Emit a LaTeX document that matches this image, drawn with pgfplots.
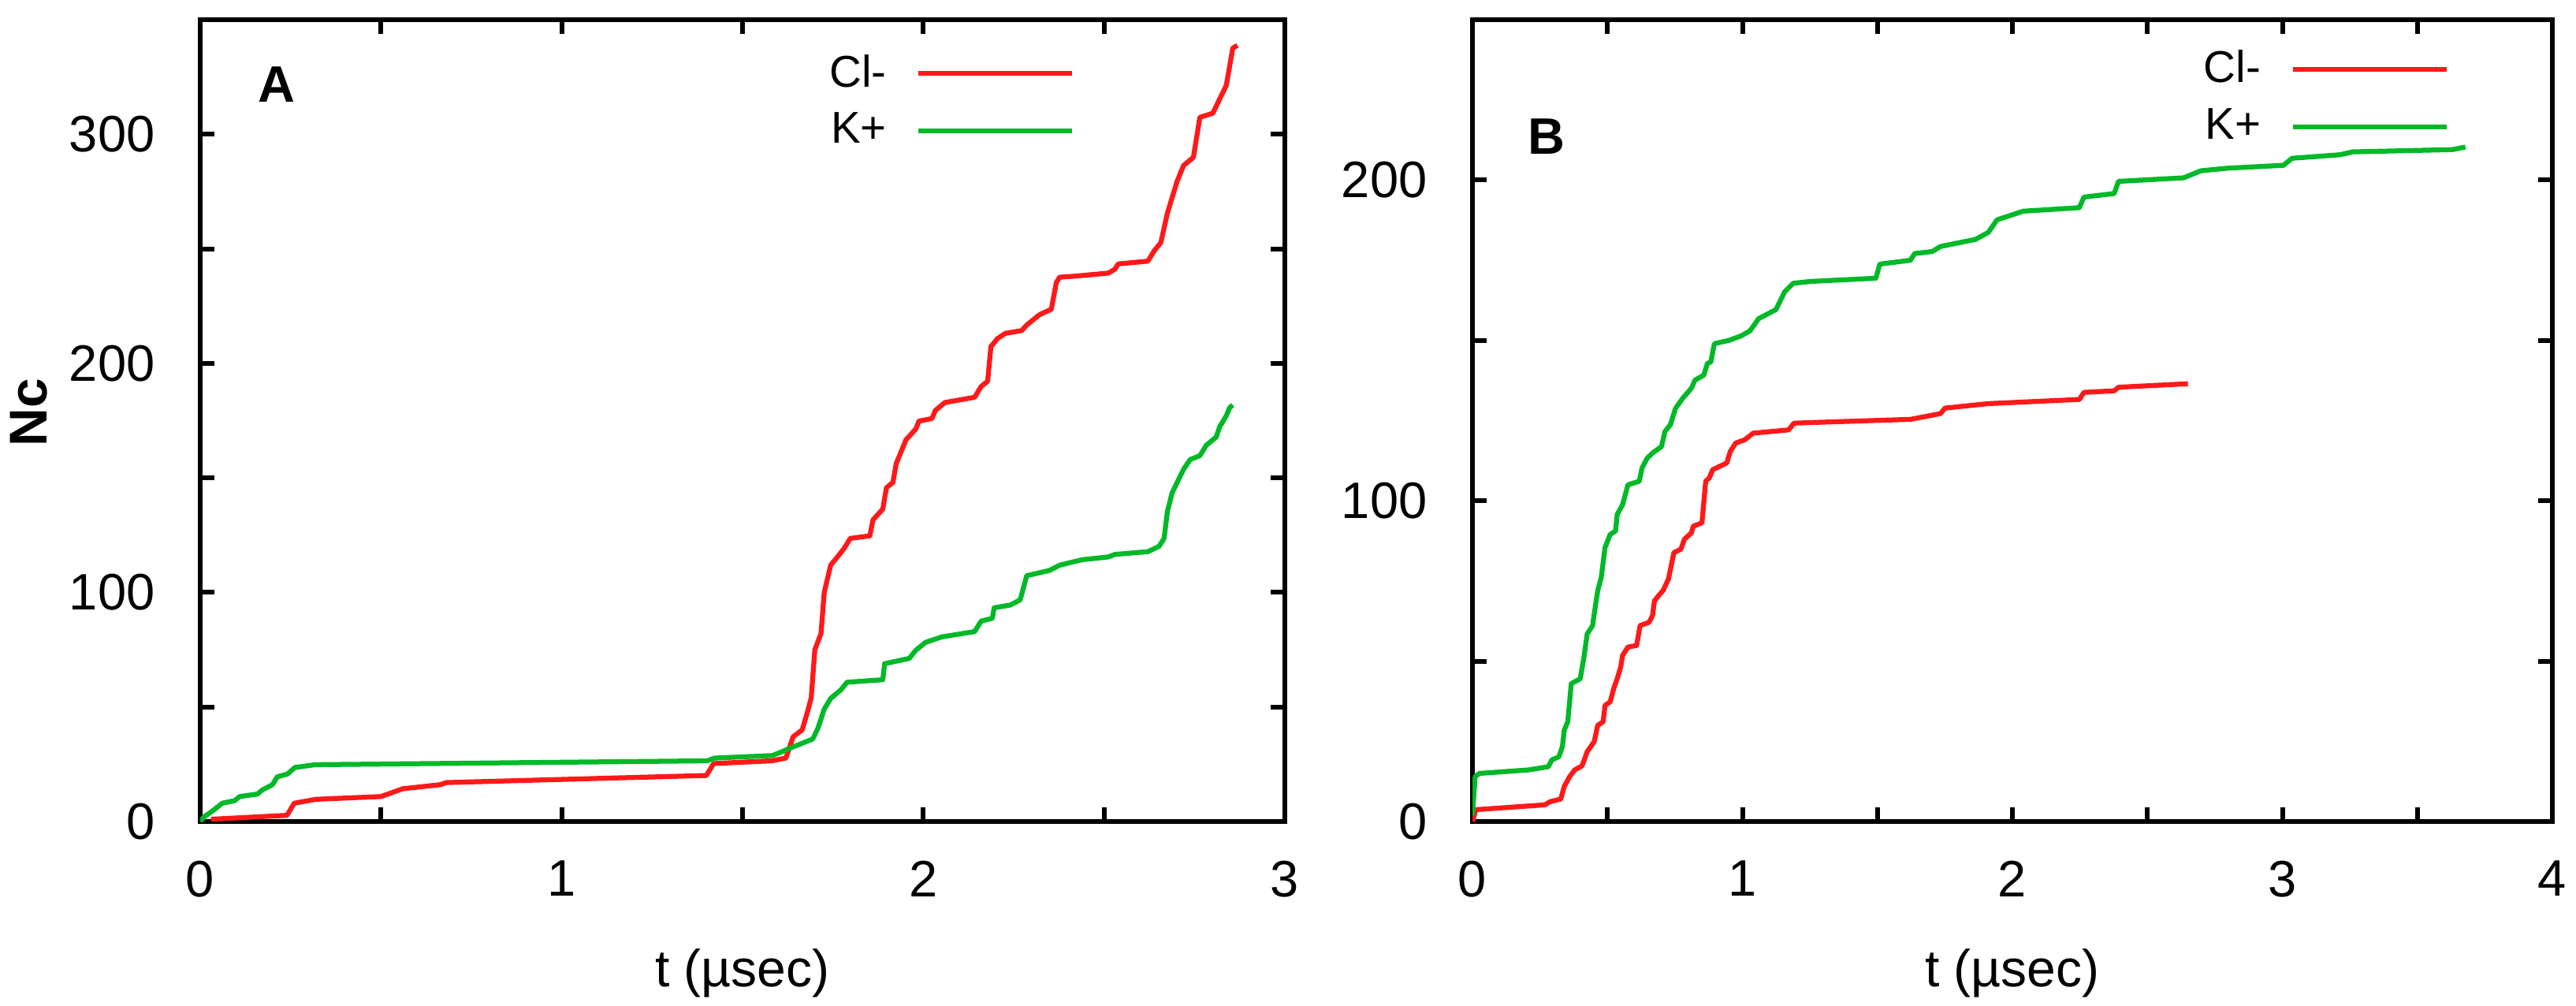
\documentclass[border=0pt]{standalone}
\usepackage{fontspec}
\setmainfont{Liberation Sans}
\usepackage{pgfplots}
\pgfplotsset{compat=1.18}
\definecolor{cred}{RGB}{255,25,25}
\definecolor{cgreen}{RGB}{0,185,40}

\pgfplotsset{
 myaxis/.style={
  scale only axis, height=203.4pt,
  axis line style={line width=1.2pt},
  every tick/.style={black, line width=1.2pt},
  tick align=inside, major tick length=3.6pt, minor tick length=3.6pt,
  minor x tick num=1, minor y tick num=1,
  xmin=0, ymin=0,
  tick label style={font=\fontsize{13}{15}\selectfont},
  /pgf/number format/assume math mode=true,
  yticklabel style={xshift=-8pt},
  xticklabel style={yshift=-6.5pt},
  xlabel={t (µsec)},
  xlabel style={font=\fontsize{13.2}{15}\selectfont, at={(axis description cs:0.5,0)}, anchor=center, yshift=-38.4pt},
  legend plot pos=right,
  legend cell align=right,
  legend image code/.code={\draw[#1] (0pt,0pt) -- (39pt,0pt);},
  legend style={draw=none, fill=none, anchor=north east, inner sep=0pt, font=\fontsize{11.3}{13}\selectfont, row sep=2pt, column sep=6pt, nodes={inner sep=1.5pt}},
 }
}

\begin{document}
\begin{tikzpicture}
\useasboundingbox (0,0) rectangle (653.6pt,255pt);

\begin{axis}[myaxis, at={(50.8pt,46.6pt)}, anchor=south west, width=275.2pt,
  xmax=3, ymax=350, xtick={0,1,2,3}, ytick={0,100,200,300},
  ylabel={\bfseries Nc},
  ylabel style={at={(axis description cs:-0.158,0.51)}, anchor=center, font=\fontsize{13.5}{15}\selectfont},
  legend style={at={(0.807,0.965)}}]
\addplot[cred, line width=1.25pt, line join=round] table {
0.03 1.0
0.24 2.7
0.26 8.0
0.32 9.7
0.50 10.9
0.53 12.6
0.56 14.3
0.665 16.1
0.68 17.0
1.40 20.1
1.42 25.3
1.58 26.5
1.62 27.7
1.64 37.0
1.665 40.0
1.68 48.0
1.69 54.0
1.70 75.0
1.717 82.0
1.726 100.0
1.744 112.0
1.762 115.4
1.78 119.0
1.798 123.6
1.852 124.7
1.861 131.7
1.888 136.4
1.898 145.7
1.916 148.0
1.925 156.2
1.952 166.6
1.979 171.3
1.988 174.8
2.024 175.9
2.033 179.4
2.06 182.9
2.142 185.2
2.16 189.9
2.178 192.2
2.187 207.3
2.205 210.8
2.227 213.1
2.272 214.3
2.286 216.7
2.322 221.3
2.354 223.6
2.368 235.3
2.377 237.6
2.422 238.1
2.512 239.4
2.53 241.1
2.539 243.4
2.621 244.6
2.639 249.2
2.657 252.7
2.675 265.5
2.702 279.5
2.72 286.4
2.747 289.9
2.765 307.4
2.801 309.2
2.82 315.5
2.838 321.3
2.856 337.6
2.869 338.8
};
\addlegendentry{Cl-}
\addplot[cgreen, line width=1.25pt, line join=round] table {
0 0
0.012 2.2
0.033 4.5
0.061 8.0
0.095 9.1
0.109 10.9
0.158 12.0
0.172 13.8
0.2 16.1
0.213 19.5
0.241 20.7
0.262 23.6
0.318 24.8
1.402 26.5
1.423 27.7
1.583 28.8
1.611 30.6
1.626 31.7
1.694 36.0
1.708 40.5
1.726 49.1
1.744 53.8
1.771 57.3
1.789 60.8
1.888 61.9
1.893 68.9
1.961 71.2
1.979 74.7
2.006 78.2
2.051 80.6
2.142 82.9
2.16 87.5
2.191 88.7
2.196 93.3
2.241 94.5
2.268 96.8
2.286 107.3
2.349 109.6
2.377 111.9
2.44 114.3
2.512 115.5
2.53 116.6
2.621 117.8
2.652 120.1
2.666 123.6
2.675 135.2
2.688 143.4
2.702 148.0
2.72 153.8
2.738 158.0
2.765 159.7
2.783 164.3
2.81 167.8
2.82 172.4
2.838 177.1
2.847 180.6
2.856 181.8
};
\addlegendentry{K+}
\node[font=\bfseries\fontsize{13}{15}\selectfont] at (axis cs:0.211,321.7) {A};
\end{axis}

\begin{axis}[myaxis, at={(373.6pt,46.6pt)}, anchor=south west, width=274pt,
  xmax=4, ymax=250, xtick={0,1,2,3,4}, ytick={0,100,200},
  legend style={at={(0.905,0.970)}}]
\addplot[cred, line width=1.25pt, line join=round] table {
0 0
0.013 3.7
0.268 5.2
0.288 6.2
0.327 7.0
0.340 10.9
0.360 14.0
0.379 16.1
0.405 17.3
0.412 18.7
0.425 21.8
0.451 24.9
0.464 30.0
0.484 31.1
0.491 36.2
0.510 37.3
0.523 41.4
0.536 44.5
0.549 48.1
0.556 51.8
0.576 54.4
0.608 54.9
0.621 61.1
0.654 62.1
0.667 64.2
0.674 68.8
0.694 70.9
0.706 72.0
0.726 75.6
0.746 83.8
0.772 84.9
0.785 88.0
0.811 90.0
0.818 92.1
0.850 93.1
0.864 106.1
0.877 107.1
0.890 109.7
0.942 111.8
0.955 115.4
0.975 118.0
1.008 119.0
1.040 121.1
1.171 122.1
1.191 124.2
1.256 124.4
1.623 125.4
1.734 127.2
1.750 128.9
1.911 130.3
2.248 131.6
2.265 133.8
2.377 134.3
2.393 135.4
2.650 136.5
};
\addlegendentry{Cl-}
\addplot[cgreen, line width=1.25pt, line join=round] table {
0 2
0.01 14
0.026 15.0
0.209 16.1
0.281 17.1
0.294 19.2
0.320 20.2
0.333 23.3
0.340 28.5
0.353 31.1
0.366 43.0
0.399 44.5
0.412 50.7
0.425 58.5
0.445 61.1
0.451 64.7
0.464 72.0
0.477 76.1
0.491 85.4
0.510 89.5
0.530 90.6
0.536 95.7
0.556 98.8
0.576 105.0
0.618 106.1
0.628 110.2
0.647 113.3
0.667 114.9
0.700 116.9
0.713 121.6
0.733 123.7
0.752 128.8
0.779 132.0
0.811 135.1
0.824 137.6
0.857 139.2
0.870 142.8
0.883 143.3
0.896 149.0
0.949 150.0
0.995 151.4
1.028 153.0
1.060 156.8
1.124 159.6
1.156 165.1
1.188 167.8
1.252 168.4
1.494 169.4
1.509 173.8
1.622 175.0
1.638 177.1
1.702 177.7
1.734 179.3
1.863 181.5
1.911 183.7
1.943 187.6
2.040 190.3
2.248 191.4
2.265 194.7
2.377 195.8
2.393 199.6
2.634 200.7
2.666 201.8
2.698 202.9
2.795 203.7
3.004 204.6
3.036 206.8
3.213 207.9
3.261 208.8
3.630 209.5
3.678 210.3
};
\addlegendentry{K+}
\node[font=\bfseries\fontsize{13}{15}\selectfont] at (axis cs:0.273,213.6) {B};
\end{axis}
\end{tikzpicture}
\end{document}
